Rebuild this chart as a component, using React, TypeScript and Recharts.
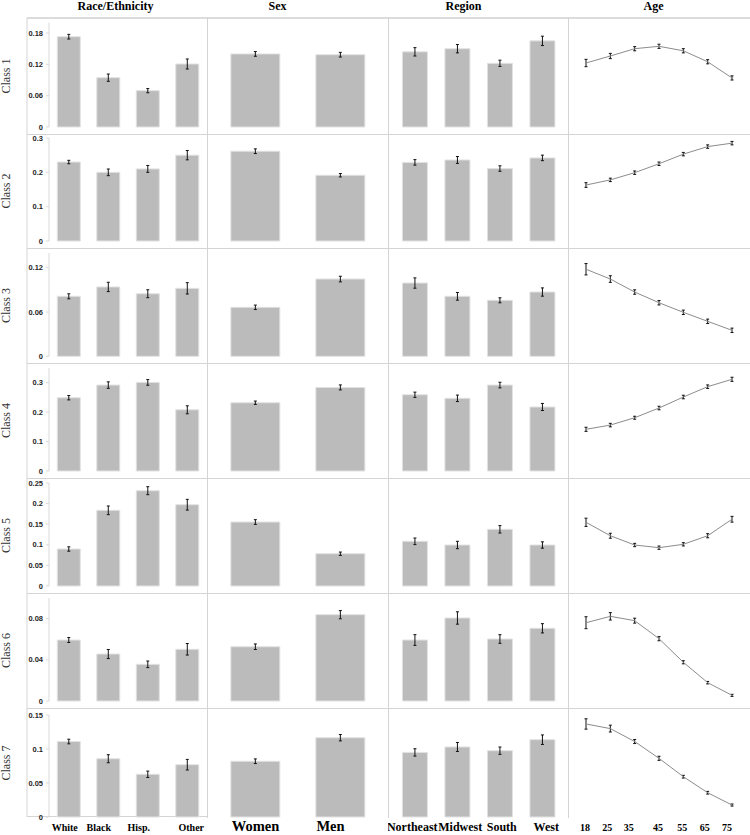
import { BarChart, Bar, LineChart, Line, XAxis, YAxis, ErrorBar } from "recharts";

const classLabels = ["Class 1", "Class 2", "Class 3", "Class 4", "Class 5", "Class 6", "Class 7"];
const panelTitles = ["Race/Ethnicity", "Sex", "Region", "Age"];
const raceCats = ["White", "Black", "Hisp.", "Other"];
const sexCats = ["Women", "Men"];
const regionCats = ["Northeast", "Midwest", "South", "West"];
const ageCats = ["18", "25", "35", "45", "55", "65", "75"];

const yMax = [0.2, 0.3, 0.14, 0.35, 0.25, 0.1, 0.15];
const yTicks = [
  [0, 0.06, 0.12, 0.18],
  [0, 0.1, 0.2, 0.3],
  [0, 0.06, 0.12],
  [0, 0.1, 0.2, 0.3],
  [0, 0.05, 0.1, 0.15, 0.2, 0.25],
  [0, 0.04, 0.08],
  [0, 0.05, 0.1, 0.15],
];

const raceValues = [
  [0.173, 0.0945, 0.0696, 0.1207],
  [0.23, 0.2, 0.21, 0.25],
  [0.0813, 0.094, 0.0848, 0.0921],
  [0.249, 0.292, 0.301, 0.208],
  [0.0898, 0.1837, 0.2313, 0.1973],
  [0.0592, 0.0456, 0.0356, 0.0502],
  [0.111, 0.0857, 0.0628, 0.0769],
];
const raceErrors = [
  [0.0045, 0.007, 0.004, 0.0096],
  [0.005, 0.0097, 0.01, 0.0136],
  [0.0034, 0.0063, 0.0054, 0.0077],
  [0.0074, 0.011, 0.0096, 0.0136],
  [0.0053, 0.0105, 0.0097, 0.013],
  [0.0024, 0.0044, 0.0032, 0.0056],
  [0.0034, 0.0059, 0.0047, 0.0078],
];

const sexValues = [
  [0.14, 0.1385],
  [0.2615, 0.1915],
  [0.0664, 0.1047],
  [0.232, 0.284],
  [0.1553, 0.0784],
  [0.0527, 0.0838],
  [0.082, 0.1166],
];
const sexErrors = [
  [0.0045, 0.0045],
  [0.0068, 0.005],
  [0.003, 0.0038],
  [0.0057, 0.0085],
  [0.0057, 0.004],
  [0.0027, 0.004],
  [0.0034, 0.0047],
];

const regionValues = [
  [0.144, 0.15, 0.122, 0.165],
  [0.229, 0.236, 0.211, 0.242],
  [0.0993, 0.0813, 0.0759, 0.0871],
  [0.259, 0.247, 0.292, 0.2175],
  [0.1085, 0.0995, 0.1376, 0.0995],
  [0.0592, 0.0806, 0.0602, 0.0706],
  [0.095, 0.103, 0.0975, 0.1137],
];
const regionErrors = [
  [0.008, 0.008, 0.006, 0.009],
  [0.008, 0.01, 0.008, 0.008],
  [0.007, 0.0052, 0.0034, 0.0056],
  [0.009, 0.011, 0.0096, 0.012],
  [0.008, 0.009, 0.009, 0.0077],
  [0.0052, 0.006, 0.0042, 0.0045],
  [0.0054, 0.0066, 0.0054, 0.007],
];

const ageValues = [
  [0.1226, 0.136, 0.15, 0.1546, 0.146, 0.125, 0.094],
  [0.163, 0.178, 0.199, 0.225, 0.253, 0.275, 0.285],
  [0.118, 0.1047, 0.0871, 0.0726, 0.0596, 0.0474, 0.0352],
  [0.1417, 0.156, 0.181, 0.214, 0.2514, 0.2865, 0.3116],
  [0.1546, 0.122, 0.0995, 0.093, 0.1012, 0.122, 0.162],
  [0.076, 0.0822, 0.078, 0.0605, 0.0376, 0.0178, 0.0055],
  [0.1368, 0.13, 0.111, 0.0863, 0.0593, 0.0357, 0.0176],
];
const ageErrors = [
  [0.007, 0.005, 0.004, 0.004, 0.004, 0.004, 0.004],
  [0.0068, 0.005, 0.005, 0.005, 0.005, 0.005, 0.005],
  [0.0077, 0.0045, 0.003, 0.003, 0.003, 0.003, 0.003],
  [0.007, 0.006, 0.005, 0.006, 0.006, 0.006, 0.007],
  [0.01, 0.006, 0.004, 0.004, 0.004, 0.005, 0.007],
  [0.0058, 0.0036, 0.0024, 0.002, 0.0015, 0.0012, 0.001],
  [0.0076, 0.005, 0.003, 0.003, 0.002, 0.002, 0.0015],
];

// layout
const rowEdges = [18, 134, 248, 363, 478, 593, 708, 818];
const plotPad = [[4.6, 7], [4, 7], [5, 6.7], [5, 7], [5, 7], [5, 7], [7, 1]];
const axisH = 17;
const colLeft = [27, 207, 388, 568];
const colWidth = [180, 181, 180, 182];
const gridColor = "#d4d4d4";
const serif = "'Liberation Serif', 'Times New Roman', serif";
// small horizontal nudges of the bottom category labels, as in the original layout
const labelShift = [[-4, -9.5, -9, 4], [0, -10], [-2.5, 3, 2, 4], [-1, -3, -6, -1, -1, -3, -5]];

const yTickStyle = { fontSize: 7.5, fontWeight: 700, fill: "#262626", fontFamily: "'Liberation Sans', Arial, sans-serif" };

function cellSize(row: number) {
  const last = row === 6;
  const h = rowEdges[row + 1] - rowEdges[row] + (last ? axisH : 0);
  return { last, h, top: plotPad[row][0], bottom: last ? 0 : plotPad[row][1], xH: plotPad[row][1] + axisH };
}

function makeTick(col: number, fontSize: number, dy: number) {
  return (props: any) => {
    const { x, y, payload, index } = props;
    return (
      <text
        x={x + labelShift[col][index]}
        y={y + dy}
        textAnchor="middle"
        fontSize={fontSize}
        fontWeight={700}
        fontFamily={serif}
        fill="#000"
      >
        {payload.value}
      </text>
    );
  };
}

function BarCell({ row, col, cats, values, errors, mLeft, mRight, fontSize }: any) {
  const { last, h, top, bottom, xH } = cellSize(row);
  const data = cats.map((name: string, k: number) => ({ name, value: values[row][k], err: errors[row][k] }));
  const showY = col === 0;
  return (
    <div style={{ position: "absolute", left: colLeft[col], top: rowEdges[row] }}>
      <BarChart width={colWidth[col]} height={h} data={data} margin={{ top, right: mRight, bottom, left: mLeft }} barCategoryGap="21%">
        <XAxis
          dataKey="name"
          hide={!last}
          height={xH}
          axisLine={false}
          tickLine={false}
          interval={0}
          tick={makeTick(col, fontSize, 6)}
        />
        <YAxis
          hide={!showY}
          width={22}
          domain={[0, yMax[row]]}
          ticks={yTicks[row]}
          interval={0}
          tick={yTickStyle}
          axisLine={{ stroke: "#d9d9d9" }}
          tickLine={{ stroke: "#d9d9d9" }}
          tickSize={3}
          tickMargin={3}
        />
        <Bar dataKey="value" fill="#bbbbbb" stroke="#e2e2e2" strokeWidth={1} isAnimationActive={false}>
          <ErrorBar dataKey="err" width={1.5} stroke="#111" strokeWidth={1} direction="y" isAnimationActive={false} />
        </Bar>
      </BarChart>
    </div>
  );
}

function AgeCell({ row }: { row: number }) {
  const { last, h, top, bottom, xH } = cellSize(row);
  const data = ageCats.map((name, k) => ({ name, value: ageValues[row][k], err: ageErrors[row][k] }));
  return (
    <div style={{ position: "absolute", left: colLeft[3], top: rowEdges[row] }}>
      <LineChart width={colWidth[3]} height={h} data={data} margin={{ top, right: 18, bottom, left: 18 }}>
        <XAxis
          dataKey="name"
          scale="point"
          padding={{ left: 0, right: 0 }}
          hide={!last}
          height={xH}
          axisLine={false}
          tickLine={false}
          interval={0}
          tick={makeTick(3, 10, 6)}
        />
        <YAxis hide domain={[0, yMax[row]]} />
        <Line dataKey="value" stroke="#8c8c8c" strokeWidth={1} dot={false} isAnimationActive={false}>
          <ErrorBar dataKey="err" width={1.5} stroke="#111" strokeWidth={1} direction="y" isAnimationActive={false} />
        </Line>
      </LineChart>
    </div>
  );
}

export default function App() {
  const titleX = [115.5, 277.5, 463.5, 653.5];
  return (
    <div style={{ position: "absolute", left: 0, top: 0, width: 750, height: 835, background: "#fff", overflow: "hidden" }}>
      <svg width={750} height={835} style={{ position: "absolute", left: 0, top: 0 }}>
        <line x1={27} x2={750} y1={18} y2={18} stroke="#dcdcdc" strokeWidth={2} />
        <line x1={27} x2={27} y1={18} y2={817} stroke={gridColor} />
        {colLeft.slice(1).map((x) => (
          <line key={x} x1={x + 0.5} x2={x + 0.5} y1={18} y2={818} stroke={gridColor} />
        ))}
        {rowEdges.slice(1, 7).map((y) => (
          <line key={y} x1={27} x2={750} y1={y + 0.5} y2={y + 0.5} stroke={gridColor} />
        ))}
        <line x1={27} x2={207} y1={816.5} y2={816.5} stroke={gridColor} />
        {panelTitles.map((t, i) => (
          <text key={t} x={titleX[i]} y={10} textAnchor="middle" fontSize={12} fontWeight={700} fontFamily={serif} fill="#000">
            {t}
          </text>
        ))}
        {classLabels.map((c, i) => (
          <text
            key={c}
            transform={`translate(10, ${(rowEdges[i] + rowEdges[i + 1]) / 2}) rotate(-90)`}
            textAnchor="middle"
            fontSize={12}
            fontFamily={serif}
            fill="#333"
          >
            {c}
          </text>
        ))}
      </svg>
      {classLabels.map((c, row) => (
        <div key={c}>
          <BarCell row={row} col={0} cats={raceCats} values={raceValues} errors={raceErrors} mLeft={0} mRight={0} fontSize={10} />
          <BarCell row={row} col={1} cats={sexCats} values={sexValues} errors={sexErrors} mLeft={6} mRight={5} fontSize={14.5} />
          <BarCell row={row} col={2} cats={regionCats} values={regionValues} errors={regionErrors} mLeft={5.5} mRight={4.5} fontSize={12} />
          <AgeCell row={row} />
        </div>
      ))}
    </div>
  );
}
